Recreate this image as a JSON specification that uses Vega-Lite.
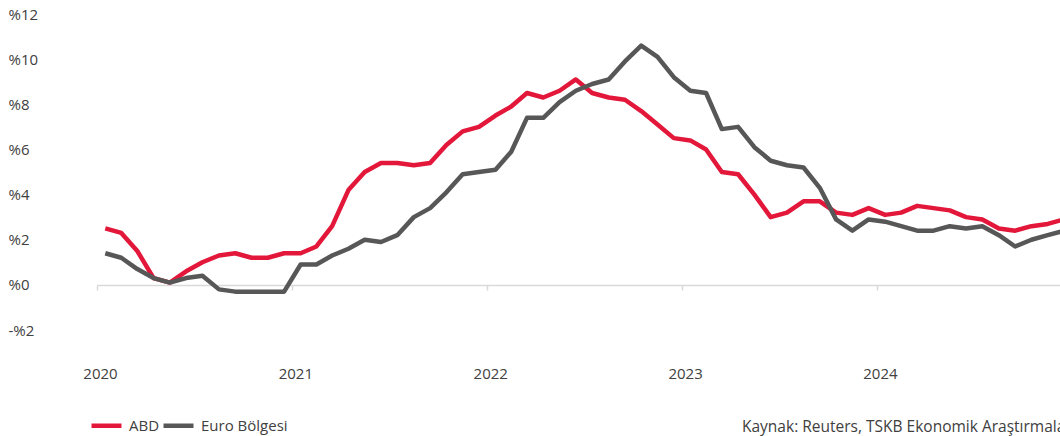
{
  "$schema": "https://vega.github.io/schema/vega-lite/v6.json",
  "width": 963,
  "height": 316,
  "padding": {"left": 97, "top": 14, "right": 0, "bottom": 106},
  "autosize": {"type": "none"},
  "background": "white",
  "config": {
    "view": {"stroke": null},
    "font": "Open Sans",
    "axis": {"labelFont": "Open Sans", "labelColor": "#404040", "labelFontSize": 15},
    "legend": {"labelFont": "Open Sans", "labelColor": "#404040", "labelFontSize": 15}
  },
  "title": {
    "text": "Kaynak: Reuters, TSKB Ekonomik Araştırmaları",
    "orient": "bottom",
    "anchor": "start",
    "dx": 734,
    "offset": -15,
    "fontSize": 15.5,
    "fontWeight": "normal",
    "color": "#404040",
    "font": "Open Sans"
  },
  "data": {
    "values": [
      {"date": "2020-01", "ABD": 2.5, "Euro Bölgesi": 1.4},
      {"date": "2020-02", "ABD": 2.3, "Euro Bölgesi": 1.2},
      {"date": "2020-03", "ABD": 1.5, "Euro Bölgesi": 0.7},
      {"date": "2020-04", "ABD": 0.3, "Euro Bölgesi": 0.3},
      {"date": "2020-05", "ABD": 0.1, "Euro Bölgesi": 0.1},
      {"date": "2020-06", "ABD": 0.6, "Euro Bölgesi": 0.3},
      {"date": "2020-07", "ABD": 1.0, "Euro Bölgesi": 0.4},
      {"date": "2020-08", "ABD": 1.3, "Euro Bölgesi": -0.2},
      {"date": "2020-09", "ABD": 1.4, "Euro Bölgesi": -0.3},
      {"date": "2020-10", "ABD": 1.2, "Euro Bölgesi": -0.3},
      {"date": "2020-11", "ABD": 1.2, "Euro Bölgesi": -0.3},
      {"date": "2020-12", "ABD": 1.4, "Euro Bölgesi": -0.3},
      {"date": "2021-01", "ABD": 1.4, "Euro Bölgesi": 0.9},
      {"date": "2021-02", "ABD": 1.7, "Euro Bölgesi": 0.9},
      {"date": "2021-03", "ABD": 2.6, "Euro Bölgesi": 1.3},
      {"date": "2021-04", "ABD": 4.2, "Euro Bölgesi": 1.6},
      {"date": "2021-05", "ABD": 5.0, "Euro Bölgesi": 2.0},
      {"date": "2021-06", "ABD": 5.4, "Euro Bölgesi": 1.9},
      {"date": "2021-07", "ABD": 5.4, "Euro Bölgesi": 2.2},
      {"date": "2021-08", "ABD": 5.3, "Euro Bölgesi": 3.0},
      {"date": "2021-09", "ABD": 5.4, "Euro Bölgesi": 3.4},
      {"date": "2021-10", "ABD": 6.2, "Euro Bölgesi": 4.1},
      {"date": "2021-11", "ABD": 6.8, "Euro Bölgesi": 4.9},
      {"date": "2021-12", "ABD": 7.0, "Euro Bölgesi": 5.0},
      {"date": "2022-01", "ABD": 7.5, "Euro Bölgesi": 5.1},
      {"date": "2022-02", "ABD": 7.9, "Euro Bölgesi": 5.9},
      {"date": "2022-03", "ABD": 8.5, "Euro Bölgesi": 7.4},
      {"date": "2022-04", "ABD": 8.3, "Euro Bölgesi": 7.4},
      {"date": "2022-05", "ABD": 8.6, "Euro Bölgesi": 8.1},
      {"date": "2022-06", "ABD": 9.1, "Euro Bölgesi": 8.6},
      {"date": "2022-07", "ABD": 8.5, "Euro Bölgesi": 8.9},
      {"date": "2022-08", "ABD": 8.3, "Euro Bölgesi": 9.1},
      {"date": "2022-09", "ABD": 8.2, "Euro Bölgesi": 9.9},
      {"date": "2022-10", "ABD": 7.7, "Euro Bölgesi": 10.6},
      {"date": "2022-11", "ABD": 7.1, "Euro Bölgesi": 10.1},
      {"date": "2022-12", "ABD": 6.5, "Euro Bölgesi": 9.2},
      {"date": "2023-01", "ABD": 6.4, "Euro Bölgesi": 8.6},
      {"date": "2023-02", "ABD": 6.0, "Euro Bölgesi": 8.5},
      {"date": "2023-03", "ABD": 5.0, "Euro Bölgesi": 6.9},
      {"date": "2023-04", "ABD": 4.9, "Euro Bölgesi": 7.0},
      {"date": "2023-05", "ABD": 4.0, "Euro Bölgesi": 6.1},
      {"date": "2023-06", "ABD": 3.0, "Euro Bölgesi": 5.5},
      {"date": "2023-07", "ABD": 3.2, "Euro Bölgesi": 5.3},
      {"date": "2023-08", "ABD": 3.7, "Euro Bölgesi": 5.2},
      {"date": "2023-09", "ABD": 3.7, "Euro Bölgesi": 4.3},
      {"date": "2023-10", "ABD": 3.2, "Euro Bölgesi": 2.9},
      {"date": "2023-11", "ABD": 3.1, "Euro Bölgesi": 2.4},
      {"date": "2023-12", "ABD": 3.4, "Euro Bölgesi": 2.9},
      {"date": "2024-01", "ABD": 3.1, "Euro Bölgesi": 2.8},
      {"date": "2024-02", "ABD": 3.2, "Euro Bölgesi": 2.6},
      {"date": "2024-03", "ABD": 3.5, "Euro Bölgesi": 2.4},
      {"date": "2024-04", "ABD": 3.4, "Euro Bölgesi": 2.4},
      {"date": "2024-05", "ABD": 3.3, "Euro Bölgesi": 2.6},
      {"date": "2024-06", "ABD": 3.0, "Euro Bölgesi": 2.5},
      {"date": "2024-07", "ABD": 2.9, "Euro Bölgesi": 2.6},
      {"date": "2024-08", "ABD": 2.5, "Euro Bölgesi": 2.2},
      {"date": "2024-09", "ABD": 2.4, "Euro Bölgesi": 1.7},
      {"date": "2024-10", "ABD": 2.6, "Euro Bölgesi": 2.0},
      {"date": "2024-11", "ABD": 2.7, "Euro Bölgesi": 2.2},
      {"date": "2024-12", "ABD": 2.9, "Euro Bölgesi": 2.4}
    ]
  },
  "transform": [
    {"fold": ["ABD", "Euro Bölgesi"], "as": ["series", "value"]}
  ],
  "mark": {"type": "line", "strokeWidth": 4.5, "clip": true, "strokeJoin": "round"},
  "encoding": {
    "x": {
      "field": "date",
      "timeUnit": "utcyearmonth",
      "type": "temporal",
      "bandPosition": 0.5,
      "scale": {
        "domain": [
          {"year": 2020, "month": 1, "date": 1, "utc": true},
          {"year": 2024, "month": 12, "date": 9, "utc": true}
        ],
        "nice": false
      },
      "axis": {
        "title": null,
        "values": [
          {"year": 2020, "month": 1, "date": 1, "utc": true},
          {"year": 2021, "month": 1, "date": 1, "utc": true},
          {"year": 2022, "month": 1, "date": 1, "utc": true},
          {"year": 2023, "month": 1, "date": 1, "utc": true},
          {"year": 2024, "month": 1, "date": 1, "utc": true}
        ],
        "format": "%Y",
        "offset": -45,
        "grid": false,
        "domainColor": "#d9d9d9",
        "domainWidth": 1.5,
        "tickColor": "#d9d9d9",
        "tickWidth": 1.5,
        "tickSize": 5,
        "labelPadding": 76,
        "labelOffset": 3,
        "labelAlign": "center"
      }
    },
    "y": {
      "field": "value",
      "type": "quantitative",
      "scale": {"domain": [-2, 12], "nice": false, "zero": false},
      "axis": {
        "title": null,
        "values": [-2, 0, 2, 4, 6, 8, 10, 12],
        "grid": false,
        "domain": false,
        "ticks": false,
        "labelAlign": "left",
        "labelPadding": 89,
        "labelExpr": "datum.value < 0 ? '-%' + abs(datum.value) : '%' + datum.value"
      }
    },
    "color": {
      "field": "series",
      "type": "nominal",
      "scale": {"domain": ["ABD", "Euro Bölgesi"], "range": ["#e3173a", "#575757"]},
      "legend": {
        "title": null,
        "orient": "none",
        "direction": "horizontal",
        "legendX": -8,
        "legendY": 394,
        "symbolType": "stroke",
        "symbolStrokeWidth": 4.5,
        "symbolSize": 900,
        "labelOffset": 5,
        "columnPadding": -6,
        "symbolOffset": 0
      }
    }
  }
}
